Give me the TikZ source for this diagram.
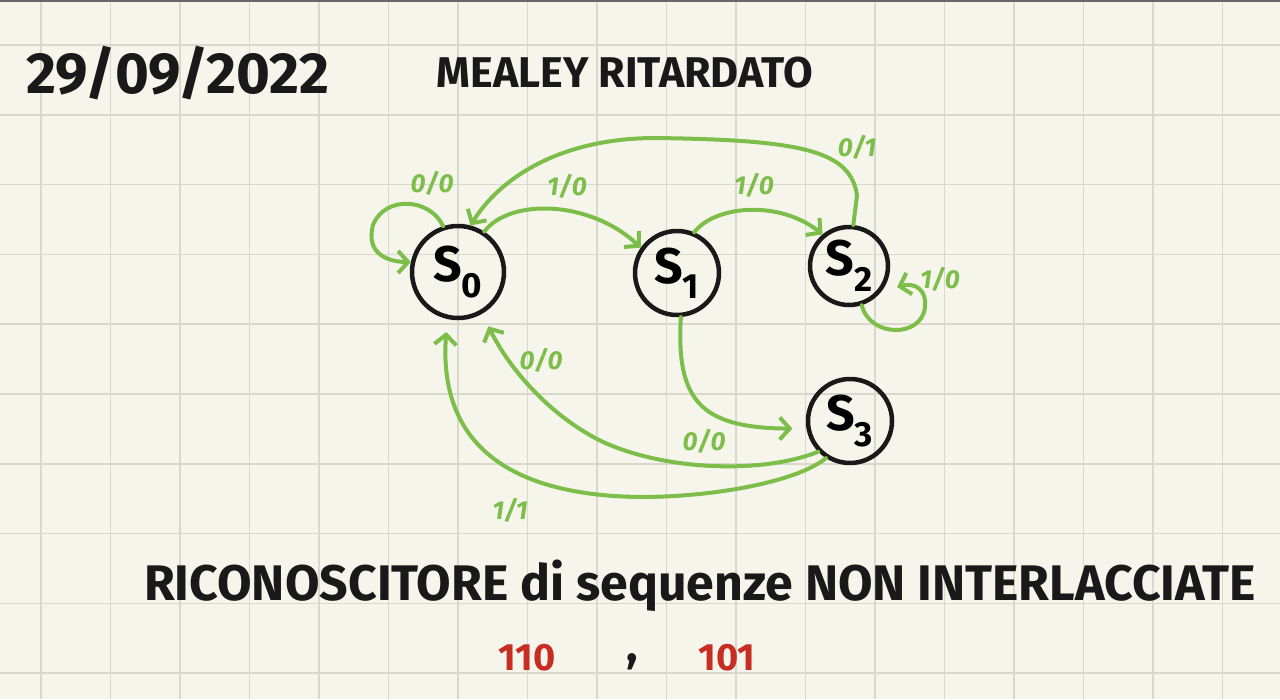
\documentclass[tikz,border=0pt]{standalone}
\usepackage{fontspec}
\setmainfont{Fira Sans}
\usetikzlibrary{arrows.meta}
\usetikzlibrary{shapes.misc}

\definecolor{paper}{RGB}{246,245,235}
\definecolor{gridline}{RGB}{218,216,204}
\definecolor{pen}{RGB}{25,25,25}
\definecolor{marker}{RGB}{125,190,75}
\definecolor{redpen}{RGB}{200,45,35}

\begin{document}
\begin{tikzpicture}[x=1pt,y=-1pt,thick,>={Straight Barb[length=10pt,width=22pt]},
    state/.style={circle,draw=pen,line width=4.5pt,inner sep=0pt,font=\fontsize{50}{50}\selectfont\bfseries},
    trans/.style={->,draw=marker,line width=4pt,line cap=round},
    lbl/.style={text=marker,font=\fontsize{26}{26}\selectfont\bfseries\itshape}]
      \useasboundingbox (0,0) rectangle (1280,699);
      \fill[paper] (0,0) rectangle (1280,699);
      % squared paper
      \foreach \i in {0,...,17}
        \draw[gridline,line width=1.6pt] (41+69.5*\i,0) -- (41+69.5*\i,699);
      \foreach \j in {0,...,9}
        \draw[gridline,line width=1.6pt] (0,45+69.8*\j) -- (1280,45+69.8*\j);
      \draw[gray!80!black,line width=3pt] (0,0) -- (1280,0);

      \node (date) [text=pen,font=\fontsize{58}{58}\selectfont\bfseries] at (178,73) {29/09/2022};
      \node (title) [text=pen,font=\fontsize{43}{43}\selectfont\bfseries] at (625,73) {MEALEY RITARDATO};

      \node (S0) [state,minimum size=92pt] at (458,272) {S\textsubscript{0}};
      \node (S1) [state,minimum size=84pt] at (677,273) {S\textsubscript{1}};
      \node (S2) [state,minimum size=78pt] at (849,266) {S\textsubscript{2}};
      \node (S3) [state,minimum size=84pt] at (850,421) {S\textsubscript{3}};
      \coordinate (S2back) at (897,287);

      \draw[trans] (S0.108) .. controls (430,198) and (385,195) .. (373,225)
                            .. controls (365,255) and (390,262) .. (S0.168);
      \draw[trans] (S0.57) .. controls (510,198) and (590,200) .. (S1.145);
      \draw[trans] (S1.67) .. controls (715,205) and (780,200) .. (S2.130);
      \draw[trans] (S2.84) -- (857,195) .. controls (850,150) and (800,140) .. (656,138)
                           .. controls (560,138) and (500,178) .. (S0.75);
      \draw[trans] (S2.-72) .. controls (870,338) and (922,338) .. (925,307)
                            .. controls (927,290) and (915,282) .. (S2back);
      \draw[trans,shorten >=14pt] (S1.-85) .. controls (676,400) and (700,428) .. (S3.190);
      \draw[trans,shorten >=14pt] (S3.224) .. controls (760,475) and (660,470) .. (599,440)
                                  .. controls (550,415) and (510,370) .. (S0.-60);
      \draw[trans,shorten >=13pt] (S3.237) .. controls (800,480) and (720,497) .. (640,497)
                                  .. controls (480,495) and (440,420) .. (S0.-103);

      \node (l00a) [lbl] at (432,183) {0/0};
      \node (l10a) [lbl] at (567,186) {1/0};
      \node (l10b) [lbl] at (754,185) {1/0};
      \node (l01) [lbl] at (857,147) {0/1};
      \node (l10c) [lbl] at (940,279) {1/0};
      \node (l00b) [lbl] at (541,360) {0/0};
      \node (l00c) [lbl] at (704,441) {0/0};
      \node (l11) [lbl] at (510,510) {1/1};

      \node (task) [text=pen,font=\fontsize{50}{50}\selectfont\bfseries] at (700,586)
        {RICONOSCITORE di sequenze NON INTERLACCIATE};
      \node (seqa) [text=redpen,font=\fontsize{38}{38}\selectfont\bfseries] at (527,658) {110};
      \node (comma) [text=pen,font=\fontsize{48}{48}\selectfont\bfseries] at (632,662) {,};
      \node (seqb) [text=redpen,font=\fontsize{38}{38}\selectfont\bfseries] at (727,658) {101};
    \end{tikzpicture}
\end{document}
